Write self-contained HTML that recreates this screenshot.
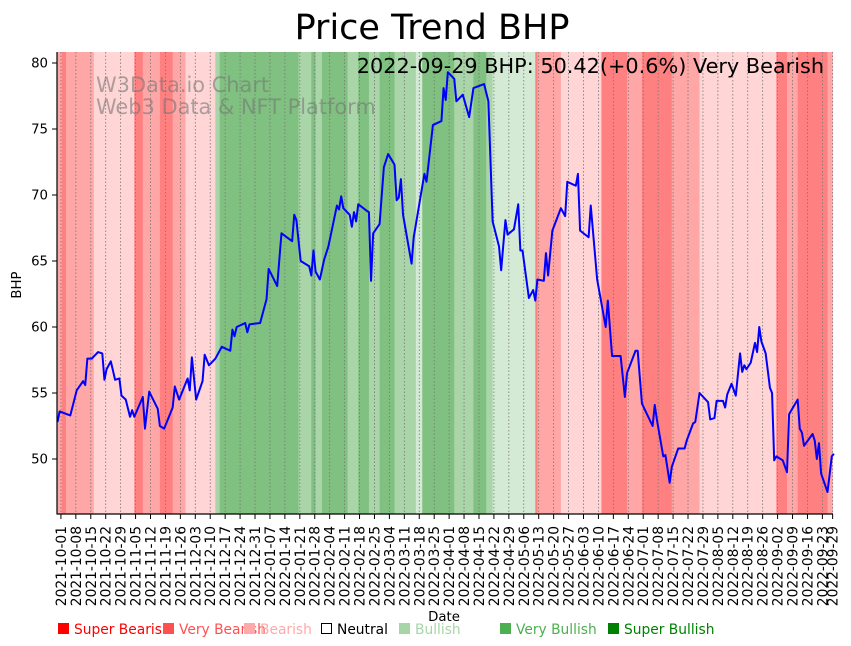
<!DOCTYPE html>
<html><head><meta charset="utf-8"><style>
html,body{margin:0;padding:0;background:#fff;}
svg{display:block;font-family:"DejaVu Sans","Liberation Sans",sans-serif;}
</style></head><body>
<svg id="chart" width="851" height="646" viewBox="0 0 851 646" xmlns="http://www.w3.org/2000/svg">
<text x="432" y="39" text-anchor="middle" font-size="35" fill="#000">Price Trend BHP</text>
<g id="bands"></g>
<g id="grid"></g>
<g fill="#777" fill-opacity="0.6" font-size="20.9">
<text x="96" y="92">W3Data.io Chart</text>
<text x="96" y="114">Web3 Data &amp; NFT Platform</text>
</g>
<path id="line" fill="none" stroke="#0000ff" stroke-width="2" stroke-linejoin="round"></path>
<text x="824" y="73" text-anchor="end" font-size="20.8" fill="#000">2022-09-29 BHP: 50.42(+0.6%) Very Bearish</text>
<line x1="57" y1="52" x2="57" y2="514.5" stroke="#000" stroke-width="1.2"/>
<line x1="57" y1="514" x2="833" y2="514" stroke="#000" stroke-width="1.2"/>
<g id="yticks" font-size="13.3"></g>
<g id="xticks" font-size="13.8"></g>
<text transform="translate(21,285) rotate(-90)" text-anchor="middle" font-size="13.3">BHP</text>
<text x="444" y="621" text-anchor="middle" font-size="13.3">Date</text>
<g font-size="13.8">
<g><rect x="58" y="623" width="11" height="11" fill="#ff0000"/><text x="74" y="634" fill="#ff0000">Super Bearish</text></g>
<g><rect x="163" y="623" width="11" height="11" fill="#ff5050"/><text x="179" y="634" fill="#ff5050">Very Bearish</text></g>
<g><rect x="244" y="623" width="11" height="11" fill="#ffaaaa"/><text x="260" y="634" fill="#ffaaaa">Bearish</text></g>
<g><rect x="321.5" y="623.5" width="10" height="10" fill="#fff" stroke="#000"/><text x="337" y="634" fill="#000">Neutral</text></g>
<g><rect x="399" y="623" width="11" height="11" fill="#a8d5a8"/><text x="415" y="634" fill="#a8d5a8">Bullish</text></g>
<g><rect x="500" y="623" width="11" height="11" fill="#4caf50"/><text x="516" y="634" fill="#4caf50">Very Bullish</text></g>
<g><rect x="608" y="623" width="11" height="11" fill="#008000"/><text x="624" y="634" fill="#008000">Super Bullish</text></g>
</g>
</svg>
<script>
const priceDays = [0,1,6,9,12,13,14,16,19,21,22,23,25,27,29,30,32,34,35,36,40,41,43,47,48,50,54,55,57,61,62,63,65,68,69,71,74,77,81,82,83,84,88,89,90,95,98,99,103,105,110,111,112,114,118,119,120,121,123,125,127,131,132,133,134,137,138,139,140,141,145,146,147,148,151,153,155,158,159,160,161,162,166,167,172,173,176,180,181,182,183,186,187,190,193,195,200,202,204,207,208,210,211,214,216,217,218,221,223,224,225,228,229,230,232,236,238,239,243,244,245,249,250,253,257,258,260,264,266,267,271,272,274,279,280,281,284,285,287,288,291,294,295,298,299,301,305,306,308,309,312,313,314,316,318,320,321,322,323,325,327,328,329,330,332,334,335,336,337,340,342,343,347,348,349,350,354,355,356,357,358,361,363,364];
const priceValues = [52.8,53.6,53.3,55.2,55.9,55.6,57.6,57.6,58.1,58.0,56.0,56.8,57.4,56.0,56.1,54.8,54.5,53.2,53.7,53.2,54.7,52.3,55.1,53.8,52.5,52.3,53.9,55.5,54.5,56.1,55.2,57.7,54.5,55.9,57.9,57.1,57.6,58.5,58.2,59.8,59.3,60.0,60.3,59.6,60.2,60.3,62.1,64.4,63.1,67.1,66.5,68.5,68.1,65.0,64.6,63.9,65.8,64.2,63.6,65.1,66.1,69.2,68.9,69.9,69.0,68.5,67.6,68.7,68.0,69.3,68.8,68.7,63.5,67.1,67.8,72.1,73.1,72.3,69.6,69.8,71.2,68.5,64.8,66.8,71.6,71.0,75.3,75.6,78.1,77.2,79.3,78.8,77.1,77.6,75.9,78.1,78.4,77.1,68.0,66.1,64.3,68.1,67.0,67.4,69.3,65.8,65.8,62.2,62.8,62.0,63.6,63.5,65.6,63.9,67.3,69.0,68.4,71.0,70.7,71.6,67.3,66.8,69.2,63.6,60.0,62.0,57.8,57.8,54.7,56.5,58.2,58.2,54.2,52.5,54.1,53.0,50.2,50.3,48.2,49.4,50.8,50.8,51.4,52.7,52.8,55.0,54.3,53.0,53.1,54.4,54.4,53.9,54.9,55.7,54.8,58.0,56.6,57.1,56.8,57.3,58.8,58.1,60.0,58.9,58.0,55.4,55.0,49.9,50.2,49.9,49.0,53.4,54.5,52.3,52.0,51.0,51.9,51.4,50.0,51.2,48.9,47.5,50.2,50.4];
const bandStarts = [0,2,4,17,36,40,48,54,60,74,76,113,119,121,124,136,141,146,151,158,168,171,186,195,201,204,224,225,236,255,267,274,288,301,337,342,347,361];
const bandLevels = [-2,-3,-2,-1,-3,-2,-3,-2,-1,2,3,2,3,2,3,2,3,2,3,2,1,3,2,3,2,1,-3,-2,-1,-3,-2,-3,-2,-1,-3,-2,-3,-2];
const bandEnd = 364;
const yTicks = [50,55,60,65,70,75,80];
const tickStart = "2021-10-01";
const tickCount = 52;
const lastTickLabel = "2022-09-29";
const lastTickDay = 363.4;

const NS = "http://www.w3.org/2000/svg";
const X0 = 57.5, XS = 2.133;
function xs(d){ return X0 + d*XS; }
function ys(v){ return 63 + (80 - v)*13.2; }
const bandColor = {"-3":"#ff8080","-2":"#ffa6a6","-1":"#ffd5d5","1":"#d5ead5","2":"#a9d5a9","3":"#80c080","0":"#ffffff"};

const bands = document.getElementById('bands');
for (let i=0;i<bandStarts.length;i++){
  const s = bandStarts[i], e = i+1<bandStarts.length ? bandStarts[i+1] : bandEnd;
  const r = document.createElementNS(NS,'rect');
  
  
  r.setAttribute('x', xs(s)); r.setAttribute('width', Math.min(xs(e),832.5)-xs(s)+0.3);
  r.setAttribute('y', 52); r.setAttribute('height', 462);
  r.setAttribute('fill', bandColor[String(bandLevels[i])]);
  bands.appendChild(r);
}

let dpath = "";
for (let i=0;i<priceDays.length;i++){
  dpath += (i?"L":"M") + xs(priceDays[i]).toFixed(2) + "," + ys(priceValues[i]).toFixed(2);
}
document.getElementById('line').setAttribute('d', dpath);

const yt = document.getElementById('yticks');
yTicks.forEach(v=>{
  const l = document.createElementNS(NS,'line');
  
  
  l.setAttribute('x1',52); l.setAttribute('x2',57); l.setAttribute('y1',ys(v)); l.setAttribute('y2',ys(v));
  l.setAttribute('stroke','#000'); yt.appendChild(l);
  const t = document.createElementNS(NS,'text');
  
  
  t.setAttribute('x',48); t.setAttribute('y',ys(v)+4.5); t.setAttribute('text-anchor','end');
  t.textContent = v; yt.appendChild(t);
});

const labels = [], days = [];
const base = new Date(tickStart+"T00:00:00Z");
for (let k=0;k<tickCount;k++){
  const d = new Date(base.getTime() + k*7*86400000);
  labels.push(d.toISOString().slice(0,10)); days.push(1.6 + k*7);
}
labels.push(lastTickLabel); days.push(lastTickDay);
const grid = document.getElementById('grid'), xt = document.getElementById('xticks');
for (let i=0;i<labels.length;i++){
  const x = xs(days[i]);
  const g = document.createElementNS(NS,'line');
  
  
  g.setAttribute('x1',x); g.setAttribute('x2',x); g.setAttribute('y1',52); g.setAttribute('y2',514);
  g.setAttribute('stroke','#777'); g.setAttribute('stroke-width','0.8'); g.setAttribute('stroke-dasharray','1.5,2');
  grid.appendChild(g);
  const m = document.createElementNS(NS,'line');
  
  
  m.setAttribute('x1',x); m.setAttribute('x2',x); m.setAttribute('y1',514); m.setAttribute('y2',519);
  m.setAttribute('stroke','#000'); xt.appendChild(m);
  const t = document.createElementNS(NS,'text');
  
  
  t.setAttribute('transform','translate('+(x+5)+',526) rotate(-90)');
  t.setAttribute('text-anchor','end');
  t.textContent = labels[i]; xt.appendChild(t);
}
</script>
</body></html>
